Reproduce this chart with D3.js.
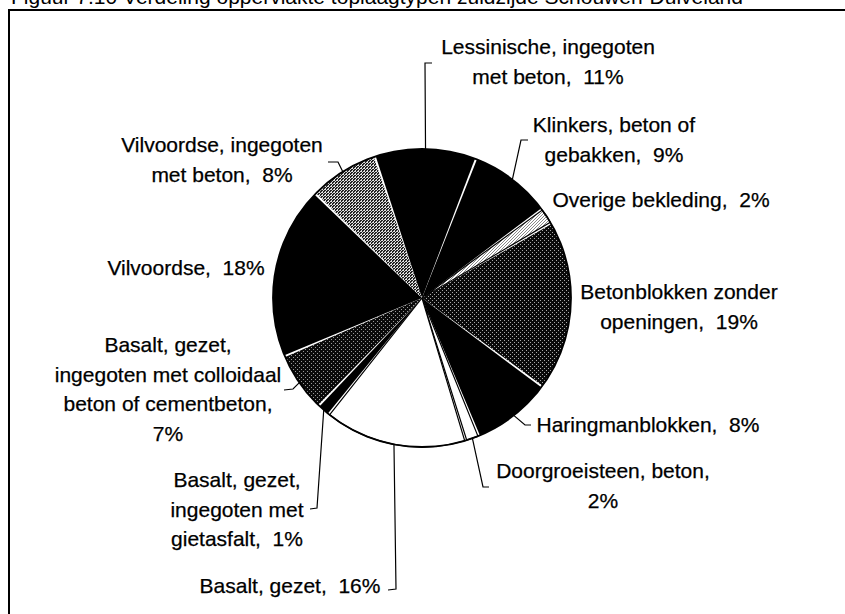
<!DOCTYPE html>
<html><head><meta charset="utf-8">
<script src="https://cdn.jsdelivr.net/npm/d3@7"></script>
<style>
html,body{margin:0;padding:0;background:#fff;overflow:hidden}
svg text{font-family:"Liberation Sans",Arial,sans-serif;white-space:pre;fill:#000}
</style></head><body>
<svg id="chart" width="845" height="614"></svg>
<script>
// ---- data ----
const titleText = "Figuur 7.10 Verdeling oppervlakte toplaagtypen zuidzijde Schouwen-Duiveland";
const categories = [
  "Lessinische, ingegoten met beton",
  "Klinkers, beton of gebakken",
  "Overige bekleding",
  "Betonblokken zonder openingen",
  "Haringmanblokken",
  "Doorgroeisteen, beton",
  "Basalt, gezet",
  "Basalt, gezet, ingegoten met gietasfalt",
  "Basalt, gezet, ingegoten met colloidaal beton of cementbeton",
  "Vilvoordse",
  "Vilvoordse, ingegoten met beton"
];
const values = [11.1, 9.0, 1.8, 18.6, 8.7, 1.5, 15.6, 1.4, 6.5, 18.8, 7.6];
const labelLines = [
  ["Lessinische, ingegoten", "met beton,  11%"],
  ["Klinkers, beton of", "gebakken,  9%"],
  ["Overige bekleding,  2%"],
  ["Betonblokken zonder", "openingen,  19%"],
  ["Haringmanblokken,  8%"],
  ["Doorgroeisteen, beton,", "2%"],
  ["Basalt, gezet,  16%"],
  ["Basalt, gezet,", "ingegoten met", "gietasfalt,  1%"],
  ["Basalt, gezet,", "ingegoten met colloidaal", "beton of cementbeton,", "7%"],
  ["Vilvoordse,  18%"],
  ["Vilvoordse, ingegoten", "met beton,  8%"]
];
const fillKeys = ["black","black","light","dark","black","white","white","black","dark2","black","gray"];

// ---- layout (relative to pie centre) ----
const cx = 422, cy = 298, R = 149;
const startDeg = -18.5;
const labelPos = [
  [126,-244],[192,-166],[239,-91],[257,1],[226,134],[181,180],
  [-132,295],[-185,189],[-254,54],[-236,-23],[-200,-146]
];
const leaders = [
  [[3,-235],[10,-235]],
  [[99,-158],[106,-158]],
  null, null,
  [[103,127],[109,127]],
  [[61,189],[67,189]],
  [[-26,291],[-34,292]],
  [[-105,210],[-112,211]],
  [[-129,91],[-138,92]],
  null,
  [[-84,-136],[-94,-136]]
];
const lineH = 29.6;

const svg = d3.select("#chart");
const defs = svg.append("defs");
function mkPattern(id, size, bg, dots, dotColor){
  const p = defs.append("pattern").attr("id",id).attr("patternUnits","userSpaceOnUse")
    .attr("width",size).attr("height",size);
  p.append("rect").attr("width",size).attr("height",size).attr("fill",bg);
  dots.forEach(([x,y])=>p.append("rect").attr("x",x).attr("y",y).attr("width",1).attr("height",1).attr("fill",dotColor));
}
mkPattern("pLight",3,"#fff",[[0,0],[2,1],[1,2]],"#888");
mkPattern("pGray",3,"#222",[[0,0],[2,1],[1,2],[2,2]],"#ddd");
mkPattern("pDark",4,"#0a0a0a",[[0,0],[2,2]],"#aaa");
mkPattern("pDark2",4,"#0a0a0a",[[1,1],[3,3]],"#999");
const fills = {black:"#000", white:"#fff", light:"url(#pLight)", gray:"url(#pGray)", dark:"url(#pDark)", dark2:"url(#pDark2)"};

// title (cut off at top, as in the reference) and frame
svg.append("text").attr("x",11).attr("y",3.5).attr("font-size",21).text(titleText);
svg.append("rect").attr("x",9).attr("y",10).attr("width",900).attr("height",700)
  .attr("fill","none").attr("stroke","#000").attr("stroke-width",2);

const pie = d3.pie().sort(null).value(d=>d)
  .startAngle(startDeg*Math.PI/180).endAngle(startDeg*Math.PI/180 + 2*Math.PI);
const arcs = pie(values);
const arc = d3.arc().innerRadius(0).outerRadius(R).padAngle(0.014).padRadius(R);
const g = svg.append("g").attr("transform",`translate(${cx},${cy})`);

g.selectAll("path.slice").data(arcs).join("path").attr("class","slice")
  .attr("d",arc)
  .attr("fill",(d,i)=>fills[fillKeys[i]])
  .attr("stroke",(d,i)=> (fillKeys[i]==="white"||fillKeys[i]==="light") ? "#000" : "none")
  .attr("stroke-width",1.2);

g.append("circle").attr("r",R).attr("fill","none").attr("stroke","#000").attr("stroke-width",1.8);

// leader lines
arcs.forEach((d,i)=>{
  const L = leaders[i];
  if(!L) return;
  const a = (d.startAngle+d.endAngle)/2;
  const p0 = [R*Math.sin(a), -R*Math.cos(a)];
  g.append("path").attr("d", d3.line()([p0, ...L]))
    .attr("fill","none").attr("stroke","#000").attr("stroke-width",1.2);
});

// labels
labelLines.forEach((lines,i)=>{
  const [dx,dy] = labelPos[i];
  const t = g.append("text").attr("text-anchor","middle").attr("font-size",21)
    .attr("stroke","#000").attr("stroke-width",0.25);
  lines.forEach((ln,k)=>{
    t.append("tspan").attr("x",dx).attr("y",dy+k*lineH).text(ln);
  });
});
</script>
</body></html>
